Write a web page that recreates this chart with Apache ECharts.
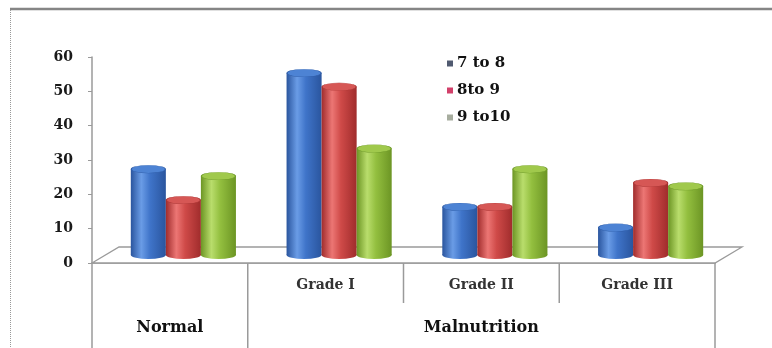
<!DOCTYPE html>
<html>
<head>
<meta charset="utf-8">
<title>Nutritional status by age group</title>
<script src="https://cdn.jsdelivr.net/npm/echarts@6/dist/echarts.min.js"></script>
<style>
  html, body { margin: 0; padding: 0; background: #ffffff; }
  #chart { width: 772px; height: 348px; }
</style>
</head>
<body>
<div id="chart"></div>
<script>
// Categories along the floor, and the two-row header beneath them
const categories = ['Normal', 'Grade I', 'Grade II', 'Grade III'];
const gradeLabels = ['', 'Grade I', 'Grade II', 'Grade III'];
const groupLabels = ['Normal', 'Malnutrition'];
const groupSpans = [[0, 0], [1, 3]];

// Age groups (years) and their percentages per category
const seriesNames = ['7 to 8', '8to 9', '9 to10'];
const age7to8 = [25, 53, 14, 8];
const age8to9 = [16, 49, 14, 21];
const age9to10 = [23, 31, 25, 20];

const yTicks = [0, 10, 20, 30, 40, 50, 60];

// Cylinder palettes: edge shade, highlight, cap
const palettes = [
  { edge: '#2a559e', light: '#6a9ce6', mid: '#3f74c9', cap: '#4d83d4', rim: '#2f5da8' },
  { edge: '#a02c2c', light: '#ec7674', mid: '#cf4a48', cap: '#d65755', rim: '#a93534' },
  { edge: '#6c9524', light: '#b9dd6c', mid: '#93bf3f', cap: '#a0c94c', rim: '#6f9a2a' }
];
const legendColors = ['#505a70', '#d2406a', '#a7ad9f'];

// pseudo-3D depth of the floor (pixels)
const DEPTH_X = 27, DEPTH_Y = -16;
const BAR_FRAC = 0.225;
const SERIF = '"DejaVu Serif", "Liberation Serif", serif';

function cylinder(cx, topY, baseY, w, pal) {
  const ry = 4;
  const r = w / 2;
  const grad = new echarts.graphic.LinearGradient(0, 0, 1, 0, [
    { offset: 0, color: pal.edge },
    { offset: 0.3, color: pal.light },
    { offset: 0.55, color: pal.mid },
    { offset: 1, color: pal.edge }
  ]);
  return {
    type: 'group',
    children: [
      {
        type: 'circle', x: cx, y: baseY, scaleY: ry / r,
        shape: { cx: 0, cy: 0, r: r }, style: { fill: grad }
      },
      {
        type: 'rect',
        shape: { x: cx - r, y: topY, width: w, height: Math.max(0, baseY - topY) },
        style: { fill: grad }
      },
      {
        type: 'circle', x: cx, y: topY, scaleY: ry / r,
        shape: { cx: 0, cy: 0, r: r - 0.5 },
        style: { fill: pal.cap, stroke: pal.rim, lineWidth: 1.2 }
      }
    ]
  };
}

function barSeries(name, values, k) {
  return {
    name: name,
    type: 'custom',
    z: 5,
    itemStyle: { color: legendColors[k] },
    encode: { x: 0, y: 1 },
    data: values.map((v, i) => [i, v]),
    renderItem: function (params, api) {
      const cat = api.value(0);
      const top = api.coord([cat, api.value(1)]);
      const base = api.coord([cat, 0]);
      const band = api.size([1, 0])[0];
      const w = band * BAR_FRAC;
      const cx = top[0] + DEPTH_X / 2 + (k - 1) * w;
      return cylinder(cx, top[1] + DEPTH_Y / 2, base[1] + DEPTH_Y / 2, w, palettes[k]);
    }
  };
}

// Floor plate and the table lines / group headings under the axis
const frameSeries = {
  name: 'frame',
  type: 'custom',
  z: 1,
  silent: true,
  data: [[0, 0]],
  encode: { x: 0, y: 1 },
  renderItem: function (params, api) {
    const band = api.size([1, 0])[0];
    const c0 = api.coord([0, 0]);
    const left = c0[0] - band / 2;
    const right = left + band * categories.length;
    const y0 = c0[1];
    const bottom = api.getHeight();
    const lineStyle = { stroke: '#9a9a9a', lineWidth: 1.5 };
    const children = [
      {
        type: 'polygon',
        shape: { points: [[left, y0], [right, y0], [right + DEPTH_X, y0 + DEPTH_Y], [left + DEPTH_X, y0 + DEPTH_Y]] },
        style: { fill: '#ffffff', stroke: '#9a9a9a', lineWidth: 1.3 }
      }
    ];
    // boundaries between groups run to the bottom, grade separators stop at the first row
    const groupEdges = new Set([0, categories.length]);
    groupSpans.forEach(s => { groupEdges.add(s[0]); groupEdges.add(s[1] + 1); });
    for (let i = 0; i <= categories.length; i++) {
      const x = left + band * i;
      const yEnd = groupEdges.has(i) ? bottom : y0 + 40;
      children.push({ type: 'line', shape: { x1: x, y1: y0, x2: x, y2: yEnd }, style: lineStyle });
    }
    groupLabels.forEach((label, g) => {
      const s = groupSpans[g];
      const cx = left + band * ((s[0] + s[1] + 1) / 2);
      children.push({
        type: 'text',
        x: cx, y: y0 + 65,
        style: {
          text: label, fill: '#111', font: 'bold 16px ' + SERIF,
          textAlign: 'center', textVerticalAlign: 'middle'
        }
      });
    });
    return { type: 'group', children: children };
  }
};

const chart = echarts.init(document.getElementById('chart'), null, { renderer: 'canvas' });
chart.setOption({
  backgroundColor: '#ffffff',
  animation: false,
  grid: { left: 92, right: 57, top: 57, bottom: 85, containLabel: false },
  legend: {
    orient: 'vertical',
    left: 442,
    top: 51,
    itemWidth: 6,
    itemHeight: 6,
    itemGap: 12,
    icon: 'rect',
    data: seriesNames.map((n, k) => ({ name: n, itemStyle: { color: legendColors[k] } })),
    textStyle: { fontFamily: SERIF, fontWeight: 'bold', fontSize: 15, color: '#111', padding: [0, 0, 0, -1] }
  },
  xAxis: {
    type: 'category',
    data: categories,
    boundaryGap: true,
    axisLine: { show: true, lineStyle: { color: '#9a9a9a', width: 1.5 } },
    axisTick: { show: false },
    axisLabel: {
      margin: 15,
      formatter: (v, i) => gradeLabels[i],
      fontFamily: SERIF, fontWeight: 'bold', fontSize: 14, color: '#333'
    },
    splitLine: { show: false }
  },
  yAxis: {
    type: 'value',
    min: yTicks[0],
    max: yTicks[yTicks.length - 1],
    interval: yTicks[1] - yTicks[0],
    axisLine: { show: true, lineStyle: { color: '#9a9a9a', width: 1.5 } },
    axisTick: { show: true, length: 4, lineStyle: { color: '#9a9a9a' } },
    axisLabel: { margin: 19, fontFamily: SERIF, fontWeight: 'bold', fontSize: 14, color: '#1a1a1a' },
    splitLine: { show: false }
  },
  graphic: [
    { type: 'line', shape: { x1: 10, y1: 9, x2: 772, y2: 9 }, style: { stroke: '#858585', lineWidth: 2.5 } },
    { type: 'line', shape: { x1: 10.5, y1: 10, x2: 10.5, y2: 348 }, style: { stroke: '#999', lineWidth: 1, lineDash: [1, 1] } }
  ],
  series: [
    frameSeries,
    barSeries(seriesNames[0], age7to8, 0),
    barSeries(seriesNames[1], age8to9, 1),
    barSeries(seriesNames[2], age9to10, 2)
  ]
});
</script>
</body>
</html>
